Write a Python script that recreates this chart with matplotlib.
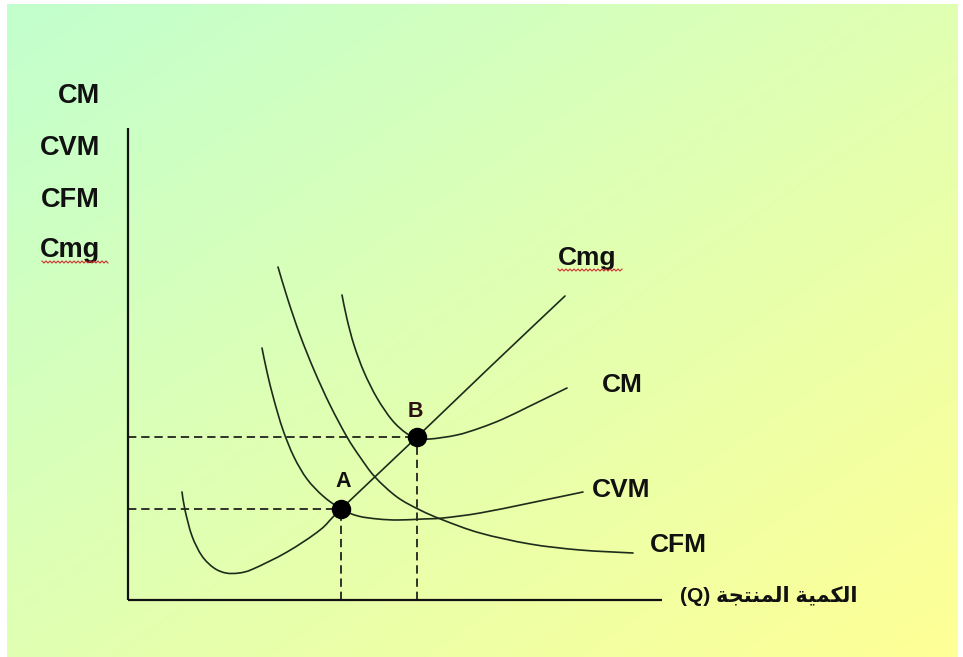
import numpy as np
import matplotlib
matplotlib.use("Agg")
import matplotlib.pyplot as plt
from matplotlib.path import Path
from matplotlib.patches import PathPatch

plt.rcParams['font.family'] = ['Liberation Sans', 'DejaVu Sans']
plt.rcParams['lines.scale_dashes'] = False

# ---------------- data (Q = quantity, C = cost; origin at the axes corner) ----------------
cmg_q = [54, 57, 64, 74, 86, 98, 111, 125, 159, 192, 213, 289, 362, 437]
cmg_c = [108, 90, 64, 44, 32, 27, 27, 31, 48, 70, 91, 163, 233, 304]

cm_q = [214, 219, 226, 236, 249, 264, 278, 289, 302, 329, 352, 375, 402, 439]
cm_c = [305, 281, 255, 228, 202, 180, 167, 162, 161, 165, 172, 181, 194, 212]

cfm_q = [150, 160, 172, 186, 202, 219, 232, 247, 269, 292, 315, 352, 402, 452, 505]
cfm_c = [333, 300, 265, 230, 195, 163, 143, 123, 103, 90, 80, 67, 56, 50, 47]

cvm_q = [134, 139, 146, 155, 166, 179, 195, 213, 230, 250, 270, 295, 315, 352, 402, 455]
cvm_c = [252, 228, 200, 170, 143, 121, 104, 91, 84, 81, 80, 81, 82, 87, 97, 108]

point_names = ["A", "B"]
point_q = [213, 289]
point_c = [91, 163]

y_axis_labels = ["CM", "CVM", "CFM", "Cmg"]
curve_labels = ["Cmg", "CM", "CVM", "CFM"]
x_axis_label = "الكمية المنتجة (Q)"

# ---------------- Arabic shaping helper (matplotlib has no shaping) ----------------
FORMS = {  # isolated, final, initial, medial
    'ا': ('\uFE8D', '\uFE8E', None, None),
    'ل': ('\uFEDD', '\uFEDE', '\uFEDF', '\uFEE0'),
    'ك': ('\uFED9', '\uFEDA', '\uFEDB', '\uFEDC'),
    'م': ('\uFEE1', '\uFEE2', '\uFEE3', '\uFEE4'),
    'ي': ('\uFEF1', '\uFEF2', '\uFEF3', '\uFEF4'),
    'ة': ('\uFE93', '\uFE94', None, None),
    'ن': ('\uFEE5', '\uFEE6', '\uFEE7', '\uFEE8'),
    'ت': ('\uFE95', '\uFE96', '\uFE97', '\uFE98'),
    'ج': ('\uFE9D', '\uFE9E', '\uFE9F', '\uFEA0'),
}


def shape_word(w):
    out = []
    for i, ch in enumerate(w):
        if ch not in FORMS:
            out.append(ch)
            continue
        prev = w[i - 1] if i > 0 else None
        nxt = w[i + 1] if i + 1 < len(w) else None
        join_prev = prev in FORMS and FORMS[prev][2] is not None
        join_next = nxt in FORMS and FORMS[ch][2] is not None
        iso, fin, ini, med = FORMS[ch]
        if join_prev and join_next:
            out.append(med)
        elif join_prev:
            out.append(fin)
        elif join_next:
            out.append(ini)
        else:
            out.append(iso)
    return ''.join(out)


def visual_rtl(text):
    tokens = text.split(' ')
    arabic = [t for t in tokens if any(c in FORMS for c in t)]
    latin = [t for t in tokens if not any(c in FORMS for c in t)]
    shaped = [shape_word(t)[::-1] for t in arabic]
    return ' '.join(latin + shaped[::-1])


# smooth drawing through the read points (Catmull-Rom as cubic Bezier path)
def smooth_path(xs, ys):
    P = np.column_stack([xs, ys]).astype(float)
    n = len(P)
    verts = [P[0]]
    codes = [Path.MOVETO]
    for i in range(n - 1):
        p0 = P[i - 1] if i > 0 else P[i]
        p1 = P[i]
        p2 = P[i + 1]
        p3 = P[i + 2] if i + 2 < n else P[i + 1]
        verts += [p1 + (p2 - p0) / 6, p2 - (p3 - p1) / 6, p2]
        codes += [Path.CURVE4] * 3
    return Path(verts, codes)


# ---------------- figure ----------------
W, H = 963, 657
fig = plt.figure(figsize=(W / 100, H / 100), dpi=100)
fig.patch.set_facecolor('white')
ax = fig.add_axes([0, 0, 1, 1])
ax.set_xlim(-128, W - 128)
ax.set_ylim(600 - H, 600)
ax.axis('off')

# gradient background (mint green top-left -> pale yellow bottom-right)
gx = np.linspace(0, 1, 200)
gy = np.linspace(0, 1, 140)
GX, GY = np.meshgrid(gx, gy)
t = (GX + GY) / 2
c0 = np.array([194, 255, 206]) / 255
c1 = np.array([255, 255, 150]) / 255
img = c0[None, None, :] * (1 - t[..., None]) + c1[None, None, :] * t[..., None]
ax.imshow(img, extent=[7 - 128, 958 - 128, 600 - 657, 600 - 4], origin='upper',
          aspect='auto', zorder=0, interpolation='bilinear')

curve_col = '#1d2b1a'
lw = 1.2

# axes lines
ax.plot([0, 0], [0, 472], color='#111111', lw=1.6, zorder=3, solid_capstyle='butt')
ax.plot([0, 534], [0, 0], color='#111111', lw=1.6, zorder=3, solid_capstyle='butt')

# curves
for q, c in [(cmg_q, cmg_c), (cm_q, cm_c), (cfm_q, cfm_c), (cvm_q, cvm_c)]:
    ax.add_patch(PathPatch(smooth_path(q, c), facecolor='none', edgecolor=curve_col,
                           lw=lw, zorder=4, capstyle='round'))

# dashed guides
for q, c in zip(point_q, point_c):
    ax.plot([0, q], [c, c], color='#111111', lw=1.2, dashes=(6, 3.5), zorder=3)
    ax.plot([q, q], [0, c], color='#111111', lw=1.2, dashes=(6, 3.5), zorder=3)

# points
ax.plot(point_q, point_c, 'o', color='black', markersize=13, zorder=6)
ax.text(point_q[0] + 2, point_c[0] + 22, point_names[0], fontsize=15.5, fontweight='bold',
        ha='center', va='baseline', color='#111111', zorder=7)
ax.text(point_q[1] - 2, point_c[1] + 20, point_names[1], fontsize=15.5, fontweight='bold',
        ha='center', va='baseline', color='#2a1010', zorder=7)

# y-axis stacked labels
for lab, base in zip(y_axis_labels, [497, 445, 393, 343]):
    ax.text(-28, base, lab, fontsize=19.5, fontweight='bold', ha='right', va='baseline',
            color='#111111', zorder=7)

# curve labels
label_pos = [(430, 335), (474, 208), (464, 103), (522, 48)]
for lab, (q, c) in zip(curve_labels, label_pos):
    ax.text(q, c, lab, fontsize=19, fontweight='bold', ha='left', va='baseline',
            color='#111111', zorder=7)


# red wavy spell-check underline
def wavy(x0, x1, y):
    xs = np.arange(x0, x1 + 0.1, 2.0)
    ys = y + np.where(np.arange(len(xs)) % 2 == 0, 1.0, -1.0)
    ax.plot(xs, ys, color='#d03030', lw=0.8, zorder=7)


wavy(-86, -20, 338)
wavy(430, 494, 330)

# x-axis label (Arabic)
ax.text(729, 4, visual_rtl(x_axis_label), fontsize=15, fontweight='bold',
        ha='right', va='center', color='#111111', zorder=7,
        family=['Liberation Sans', 'DejaVu Sans'])

fig.savefig('out.png', dpi=100, facecolor=fig.get_facecolor())
